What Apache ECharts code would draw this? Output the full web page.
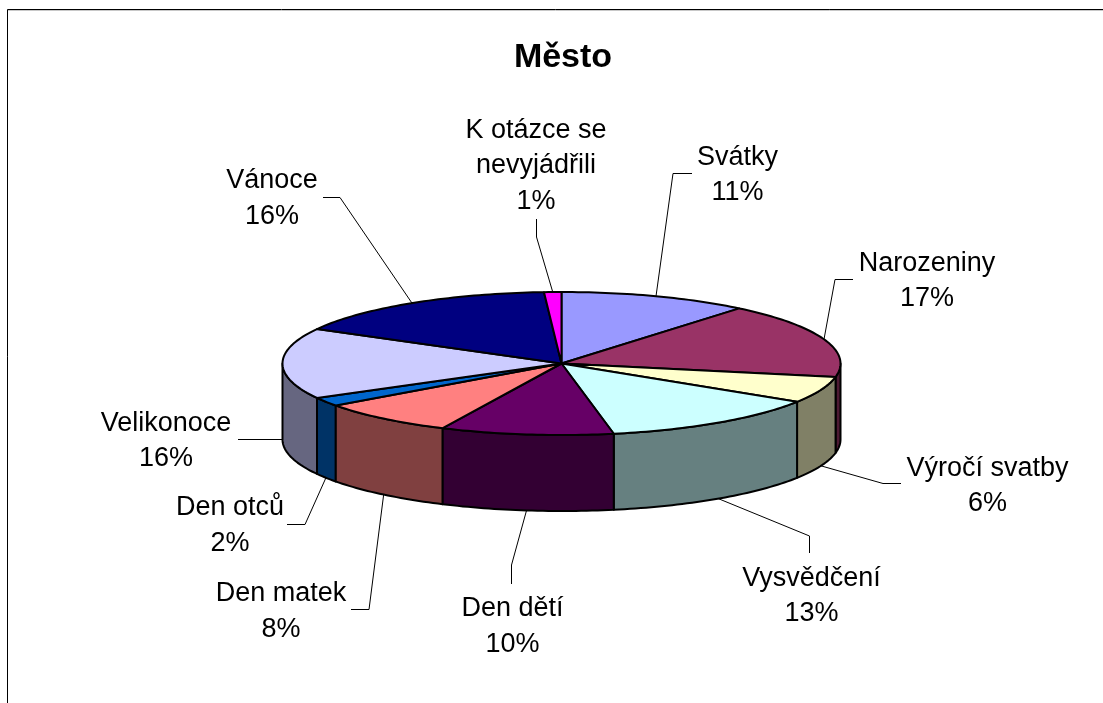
<!DOCTYPE html>
<html><head><meta charset="utf-8">
<style>html,body{margin:0;padding:0;background:#fff}#c{width:1103px;height:703px}</style>
<script src="https://cdn.jsdelivr.net/npm/echarts@6/dist/echarts.min.js"></script>
</head><body><div id="c"></div>
<script>
const chartTitle = 'Město';
const categories = ['Svátky','Narozeniny','Výročí svatby','Vysvědčení','Den dětí','Den matek','Den otců','Velikonoce','Vánoce','K otázce se\nnevyjádřili'];
const shares = [11,17,6,13,10,8,2,16,16,1];
const topColors = ['#9999FF','#993366','#FFFFCC','#CCFFFF','#660066','#FF8080','#0066CC','#CCCCFF','#000080','#FF00FF'];
const wallColors = ['#4D4D80','#4D1A33','#808066','#668080','#330033','#804040','#003366','#666680','#000040','#800080'];

// Pie geometry (pixels)
const cx = 561.5, cy = 363.5, rx = 279, ry = 71.5, depth = 76;
// Label layout: text centre, then the leader line's elbow points; leaders start at the slice's middle angle
const labelLayout = [
  {x:737.5,y:175, elbow:[[673,173.5],[692,173.5]]},
  {x:927,y:281, elbow:[[835,279.5],[853,279.5]]},
  {x:987.5,y:486, elbow:[[883,483.5],[901,483.5]]},
  {x:811.5,y:596, elbow:[[809.5,536],[809.5,553]]},
  {x:512.5,y:626.5, elbow:[[511.5,565],[511.5,584]]},
  {x:281,y:611.5, elbow:[[369,609.5],[351,609.5]]},
  {x:230,y:525.5, elbow:[[305,524.5],[287,524.5]]},
  {x:166,y:441, elbow:[[238,439.5]]},
  {x:272,y:198.5, elbow:[[340,197.5],[323,197.5]]},
  {x:536,y:166, elbow:[[536.5,237],[536.5,219]]}
];
const fontFamily = '"Liberation Sans", Arial, sans-serif';

const total = shares.reduce((a,b)=>a+b,0);
const starts = []; { let s = 0; for (const v of shares) { starts.push(s); s += v; } }
const ang = p => p/total*2*Math.PI;
const pt = (a,dy=0) => [cx + rx*Math.sin(a), cy - ry*Math.cos(a) + dy];
function arc(a0,a1,dy=0){ const n=Math.max(2,Math.ceil((a1-a0)/0.02)); const r=[]; for(let i=0;i<=n;i++) r.push(pt(a0+(a1-a0)*i/n,dy)); return r; }
const edge = {stroke:'#000', lineWidth:2, lineJoin:'round'};

function wallElements(i){
  const a0=Math.max(ang(starts[i]),Math.PI/2), a1=Math.min(ang(starts[i]+shares[i]),Math.PI*1.5);
  if(a1<=a0) return [];
  const top=arc(a0,a1), bot=arc(a0,a1,depth).reverse();
  return [{type:'polygon',shape:{points:top.concat(bot)},style:{fill:wallColors[i],...edge}}];
}
function topElements(i){
  const a0=ang(starts[i]), a1=ang(starts[i]+shares[i]);
  return [{type:'polygon',shape:{points:[[cx,cy]].concat(arc(a0,a1))},style:{fill:topColors[i],...edge}}];
}
function labelElements(i){
  const l=labelLayout[i];
  const a=ang(starts[i]+shares[i]/2);
  const from=pt(a,Math.cos(a)<1e-6?depth:0);
  return [
    {type:'polyline',shape:{points:[from].concat(l.elbow)},style:{fill:'none',stroke:'#000',lineWidth:1},silent:true},
    {type:'text',style:{x:l.x,y:l.y,text:categories[i]+'\n'+shares[i]+'%',fill:'#000',font:'27px '+fontFamily,
      align:'center',verticalAlign:'middle',lineHeight:35.5}}
  ];
}
// painter's order: walls from both sides toward the front, then tops, then leaders and labels
const wallOrder=shares.map((_,i)=>i).sort((p,q)=>{
  const mid=k=>ang(starts[k]+shares[k]/2); return Math.cos(mid(q))-Math.cos(mid(p));
});
const option={
  animation:false,
  backgroundColor:'#fff',
  title:{text:chartTitle,left:558,top:36,textAlign:'center',textStyle:{fontFamily,fontSize:34,fontWeight:'bold',color:'#000'}},
  graphic:[
    {type:'polyline',shape:{points:[[7.5,703],[7.5,9.5],[1103,9.5]]},style:{fill:'none',stroke:'#000',lineWidth:1}},
    {type:'line',shape:{x1:8,y1:10.5,x2:1103,y2:10.5},style:{stroke:'#c8c8c8',lineWidth:1}}
  ],
  series:[{
    type:'custom',
    coordinateSystem:'none',
    data:shares.map((v,i)=>({name:categories[i],value:[i,v]})),
    renderItem:(params,api)=>{
      // one pass draws all layers at index 0 to hold the required stacking order
      if(params.dataIndex!==0) return {type:'group',children:[]};
      const kids=[];
      wallOrder.forEach(i=>kids.push(...wallElements(i)));
      shares.forEach((_,i)=>kids.push(...topElements(i)));
      shares.forEach((_,i)=>kids.push(...labelElements(i)));
      return {type:'group',children:kids};
    }
  }]
};
echarts.init(document.getElementById('c'),null,{renderer:'canvas'}).setOption(option);
</script></body></html>
